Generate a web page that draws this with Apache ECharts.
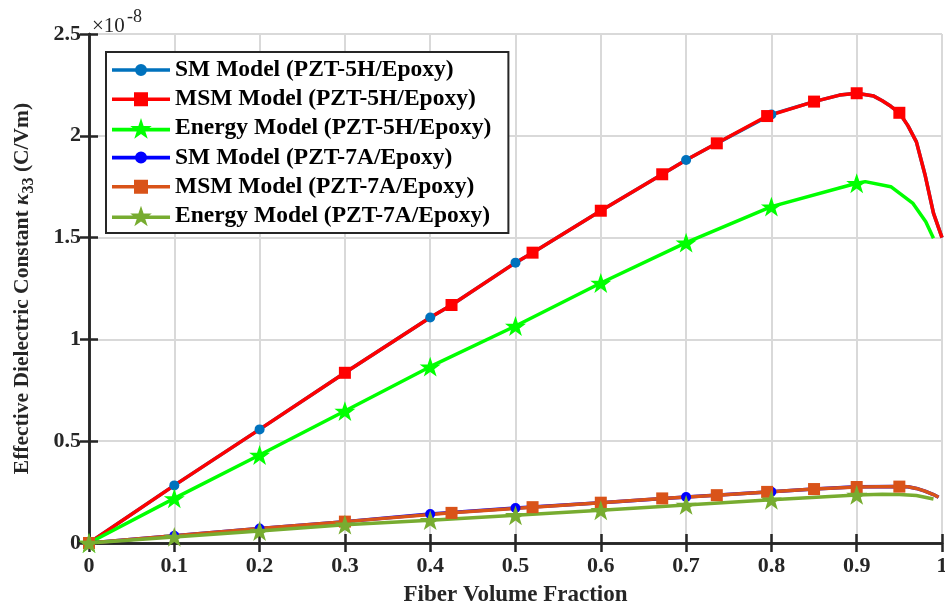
<!DOCTYPE html>
<html><head><meta charset="utf-8">
<script src="https://cdn.jsdelivr.net/npm/echarts@6/dist/echarts.min.js"></script>
<style>html,body{margin:0;padding:0;background:#fff}#c{width:945px;height:609px}</style>
</head><body><div id="c"></div>
<script>
// ---- data (values in units of 1e-8 C/Vm) ----
const xTicks = [0, 0.1, 0.2, 0.3, 0.4, 0.5, 0.6, 0.7, 0.8, 0.9, 1];
const yTicks = [0, 0.5, 1, 1.5, 2, 2.5];

const sm5hX = [0, 0.1, 0.2, 0.3, 0.4, 0.425, 0.5, 0.52, 0.6, 0.672, 0.7, 0.736, 0.8, 0.85, 0.88, 0.9, 0.92, 0.93, 0.94, 0.95, 0.96, 0.97, 0.98, 0.99, 1.0];
const sm5hY = [0, 0.283, 0.558, 0.836, 1.108, 1.169, 1.377, 1.426, 1.632, 1.811, 1.881, 1.963, 2.105, 2.168, 2.200, 2.209, 2.195, 2.172, 2.145, 2.113, 2.05, 1.97, 1.81, 1.62, 1.5];
const sm5hMarks = [0, 0.1, 0.2, 0.3, 0.4, 0.5, 0.6, 0.7, 0.8, 0.9];

const msm5hX = [0, 0.1, 0.2, 0.3, 0.4, 0.425, 0.5, 0.52, 0.6, 0.672, 0.7, 0.736, 0.795, 0.85, 0.88, 0.9, 0.92, 0.93, 0.94, 0.95, 0.96, 0.97, 0.98, 0.99, 1.0];
const msm5hY = [0, 0.283, 0.558, 0.836, 1.108, 1.169, 1.377, 1.426, 1.632, 1.811, 1.881, 1.963, 2.097, 2.168, 2.200, 2.209, 2.195, 2.172, 2.145, 2.113, 2.05, 1.97, 1.81, 1.62, 1.5];
const msm5hMarks = [0, 0.3, 0.425, 0.52, 0.6, 0.672, 0.736, 0.795, 0.85, 0.9, 0.95];

const en5hX = [0, 0.1, 0.2, 0.3, 0.4, 0.5, 0.6, 0.7, 0.8, 0.9, 0.91, 0.94, 0.966, 0.981, 0.99];
const en5hY = [0, 0.219, 0.432, 0.648, 0.866, 1.066, 1.277, 1.475, 1.652, 1.767, 1.775, 1.75, 1.668, 1.578, 1.497];
const en5hMarks = [0, 0.1, 0.2, 0.3, 0.4, 0.5, 0.6, 0.7, 0.8, 0.9];

const sm7aX = [0, 0.1, 0.2, 0.3, 0.4, 0.5, 0.6, 0.7, 0.8, 0.85, 0.9, 0.95, 0.96, 0.97, 0.98, 0.99, 0.996];
const sm7aY = [0, 0.036, 0.071, 0.105, 0.142, 0.172, 0.198, 0.226, 0.252, 0.265, 0.276, 0.277, 0.276, 0.268, 0.255, 0.238, 0.225];
const sm7aMarks = [0, 0.1, 0.2, 0.3, 0.4, 0.5, 0.6, 0.7, 0.8, 0.9];

const msm7aX = [0, 0.1, 0.2, 0.3, 0.425, 0.52, 0.6, 0.672, 0.736, 0.795, 0.85, 0.9, 0.95, 0.96, 0.97, 0.98, 0.99, 0.996];
const msm7aY = [0, 0.036, 0.071, 0.105, 0.148, 0.176, 0.198, 0.219, 0.235, 0.251, 0.265, 0.275, 0.277, 0.276, 0.268, 0.255, 0.238, 0.225];
const msm7aMarks = [0, 0.3, 0.425, 0.52, 0.6, 0.672, 0.736, 0.795, 0.85, 0.9, 0.95];

const en7aX = [0, 0.1, 0.2, 0.3, 0.4, 0.5, 0.6, 0.7, 0.8, 0.9, 0.93, 0.95, 0.97, 0.99];
const en7aY = [0, 0.030, 0.059, 0.09, 0.112, 0.136, 0.161, 0.187, 0.212, 0.236, 0.239, 0.238, 0.233, 0.216];
const en7aMarks = [0, 0.1, 0.2, 0.3, 0.4, 0.5, 0.6, 0.7, 0.8, 0.9];

const names = [
  'SM Model (PZT-5H/Epoxy)', 'MSM Model (PZT-5H/Epoxy)', 'Energy Model (PZT-5H/Epoxy)',
  'SM Model (PZT-7A/Epoxy)', 'MSM Model (PZT-7A/Epoxy)', 'Energy Model (PZT-7A/Epoxy)'
];

// ---- chart ----
const FONT = '"Times New Roman", "Liberation Serif", serif';
const STAR = 'path://M50,0 L61.8,35.1 L98.1,35.1 L68.8,56.7 L79.4,90.9 L50,69.3 L20.6,90.9 L31.2,56.7 L1.9,35.1 L38.2,35.1 Z';

// legend icons: line + marker, in a 58-wide box
const LINE = 'M0,9.7 L58,9.7 L58,13.3 L0,13.3 Z ';
const ICON_CIRCLE = 'path://' + LINE + 'M23,11.5 A6,6 0 1 1 35,11.5 A6,6 0 1 1 23,11.5 Z';
const ICON_RECT = 'path://' + LINE + 'M22,4.5 L36,4.5 L36,18.5 L22,18.5 Z';
const ICON_STAR = 'path://' + LINE + 'M29,0 L31.6,7.9 L39.8,7.9 L33.1,12.7 L35.7,20.6 L29,15.8 L22.3,20.6 L24.9,12.7 L18.2,7.9 L26.4,7.9 Z';

function mk(xs, ys, marks) {
  return xs.map((x, i) => marks.indexOf(x) >= 0 ? [x, ys[i]] : { value: [x, ys[i]], symbol: 'none' });
}
function line(name, xs, ys, marks, color, symbol, size) {
  return {
    name, type: 'line', data: mk(xs, ys, marks), symbol, symbolSize: size,
    symbolKeepAspect: true, showAllSymbol: true, smooth: false,
    lineStyle: { color, width: 3.5 }, itemStyle: { color }, emphasis: { disabled: true },
    clip: false
  };
}

const axisLineStyle = { color: '#262626', width: 2.5 };
const chart = echarts.init(document.getElementById('c'), null, { renderer: 'canvas' });
chart.setOption({
  animation: false,
  backgroundColor: '#fff',
  grid: { left: 89, right: 3, top: 34, bottom: 66, containLabel: false, outerBoundsMode: 'none' },
  legend: {
    left: 106, top: 52, orient: 'vertical',
    padding: [6, 17, 5, 6], itemGap: 5.2, itemWidth: 58, itemHeight: 23,
    borderColor: '#262626', borderWidth: 2, backgroundColor: '#fff',
    symbolKeepAspect: true,
    textStyle: { fontFamily: FONT, fontWeight: 'bold', fontSize: 23.5, color: '#000', lineHeight: 23 },
    data: [
      { name: names[0], icon: ICON_CIRCLE },
      { name: names[1], icon: ICON_RECT },
      { name: names[2], icon: ICON_STAR },
      { name: names[3], icon: ICON_CIRCLE },
      { name: names[4], icon: ICON_RECT },
      { name: names[5], icon: ICON_STAR }
    ]
  },
  xAxis: [{
    type: 'value', min: 0, max: 1, interval: 0.1,
    name: 'Fiber Volume Fraction', nameLocation: 'middle', nameGap: 41,
    nameTextStyle: { fontFamily: FONT, fontWeight: 'bold', fontSize: 23, color: '#262626' },
    axisLine: { show: true, lineStyle: axisLineStyle },
    axisTick: { show: true, inside: true, length: 9, lineStyle: axisLineStyle },
    axisLabel: { fontFamily: FONT, fontWeight: 'bold', fontSize: 22, color: '#262626', margin: 12,
      showMinLabel: true, showMaxLabel: true, formatter: v => String(+v.toFixed(1)) },
    splitLine: { show: true, lineStyle: { color: '#d9d9d9', width: 2 } }
  }, {
    type: 'value', min: 0, max: 1, interval: 0.1, position: 'top',
    axisLine: { show: true, lineStyle: axisLineStyle },
    axisTick: { show: true, inside: true, length: 9, lineStyle: axisLineStyle },
    axisLabel: { show: false }, splitLine: { show: false }
  }],
  yAxis: [{
    type: 'value', min: 0, max: 2.5, interval: 0.5,
    name: '{a|Effective Dielectric Constant }{k|κ}{s|33}{a| (C/Vm)}',
    nameLocation: 'middle', nameGap: 56, nameRotate: 90,
    nameTextStyle: {
      fontFamily: FONT, fontWeight: 'bold', fontSize: 21.5, color: '#262626',
      rich: {
        a: { fontFamily: FONT, fontWeight: 'bold', fontSize: 21.5, color: '#262626', lineHeight: 22, verticalAlign: 'top' },
        k: { fontFamily: FONT, fontStyle: 'italic', fontSize: 21.5, color: '#262626', lineHeight: 22, verticalAlign: 'top' },
        s: { fontFamily: FONT, fontWeight: 'bold', fontSize: 16, color: '#262626', lineHeight: 16, verticalAlign: 'top', padding: [10, 0, 0, 0] }
      }
    },
    axisLine: { show: true, lineStyle: axisLineStyle },
    axisTick: { show: true, inside: true, length: 9, lineStyle: axisLineStyle },
    axisLabel: { fontFamily: FONT, fontWeight: 'bold', fontSize: 22, color: '#262626', margin: 8,
      showMinLabel: true, showMaxLabel: true },
    splitLine: { show: true, lineStyle: { color: '#d9d9d9', width: 2 } }
  }, {
    type: 'value', min: 0, max: 2.5, interval: 0.5, position: 'right',
    axisLine: { show: true, lineStyle: axisLineStyle },
    axisTick: { show: true, inside: true, length: 9, lineStyle: axisLineStyle },
    axisLabel: { show: false }, splitLine: { show: false }
  }],
  graphic: [
    { type: 'text', left: 92, top: 16, style: { text: '×10', font: '21px ' + FONT, fill: '#262626' } },
    { type: 'text', left: 127, top: 8, style: { text: '-8', font: '18px ' + FONT, fill: '#262626' } }
  ],
  series: [
    line(names[0], sm5hX, sm5hY, sm5hMarks, '#0072BD', 'circle', 10),
    line(names[1], msm5hX, msm5hY, msm5hMarks, '#FF0000', 'rect', 12),
    line(names[2], en5hX, en5hY, en5hMarks, '#00FF00', STAR, 21),
    line(names[3], sm7aX, sm7aY, sm7aMarks, '#0000FF', 'circle', 10),
    line(names[4], msm7aX, msm7aY, msm7aMarks, '#D95319', 'rect', 12),
    line(names[5], en7aX, en7aY, en7aMarks, '#77AC30', STAR, 21)
  ]
});
</script>
</body></html>
